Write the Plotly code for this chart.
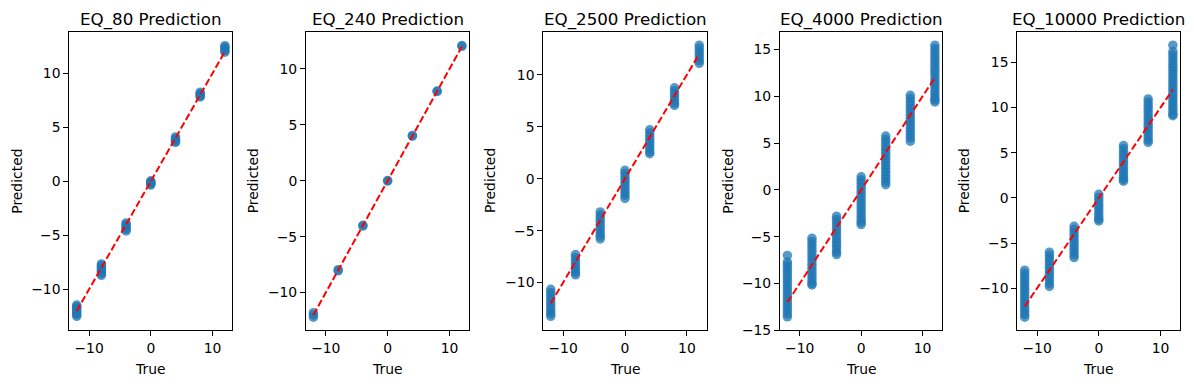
import plotly.graph_objects as go

true_levels = [-12, -8, -4, 0, 4, 8, 12]
titles = ["EQ_80 Prediction", "EQ_240 Prediction", "EQ_2500 Prediction",
          "EQ_4000 Prediction", "EQ_10000 Prediction"]

# predicted values for each true level
eq80_pred = [
    [-11.45, -11.6, -11.75, -11.9, -12.05, -12.2, -12.35, -12.5],
    [-7.65, -7.8, -7.95, -8.1, -8.25, -8.4, -8.55, -8.7],
    [-3.85, -4.0, -4.15, -4.3, -4.45, -4.6],
    [0.05, -0.05, -0.15, -0.25, -0.35],
    [4.1, 3.95, 3.8, 3.7, 3.6],
    [8.25, 8.1, 8.0, 7.9, 7.8],
    [12.55, 12.4, 12.25, 12.1, 11.95],
]
eq240_pred = [
    [-11.8, -12.0, -12.2],
    [-7.95, -8.05],
    [-3.98, -4.05],
    [0.02, -0.03],
    [4.05, 3.98],
    [8.02, 7.98],
    [12.08, 12.02],
]
eq2500_pred = [
    [-10.65, -10.95, -11.25, -11.55, -11.85, -12.15, -12.45, -12.75, -13.0, -13.25],
    [-7.3, -7.6, -7.9, -8.2, -8.5, -8.8, -9.05, -9.25],
    [-3.2, -3.5, -3.8, -4.1, -4.4, -4.7, -5.0, -5.3, -5.55, -5.8],
    [0.8, 0.5, 0.2, -0.1, -0.4, -0.7, -1.0, -1.3, -1.6, -1.9],
    [4.7, 4.4, 4.1, 3.8, 3.5, 3.2, 2.9, 2.6, 2.4],
    [8.75, 8.45, 8.15, 7.85, 7.55, 7.25, 7.05],
    [12.85, 12.55, 12.25, 11.95, 11.65, 11.35, 11.1],
]
eq4000_pred = [
    [-7.0, -7.7, -8.0, -8.35, -8.7, -9.05, -9.4, -9.75, -10.1, -10.45, -10.8, -11.15,
     -11.5, -11.85, -12.2, -12.55, -12.9, -13.25, -13.55],
    [-5.15, -5.5, -5.85, -6.2, -6.55, -6.9, -7.25, -7.6, -7.95, -8.3, -8.65, -9.0,
     -9.35, -9.7, -10.0, -10.15],
    [-2.8, -3.15, -3.5, -3.85, -4.2, -4.55, -4.9, -5.25, -5.6, -5.95, -6.3, -6.65, -6.9],
    [1.4, 1.05, 0.7, 0.35, 0.0, -0.35, -0.7, -1.05, -1.4, -1.75, -2.1, -2.45, -2.8,
     -3.15, -3.45, -3.7],
    [5.75, 5.4, 5.05, 4.7, 4.35, 4.0, 3.65, 3.3, 2.95, 2.6, 2.25, 1.9, 1.55, 1.2, 0.85, 0.55],
    [10.1, 9.75, 9.4, 9.05, 8.7, 8.35, 8.0, 7.65, 7.3, 6.95, 6.6, 6.25, 5.9, 5.55, 5.2],
    [15.45, 15.1, 14.75, 14.4, 14.05, 13.7, 13.35, 13.0, 12.65, 12.3, 11.95, 11.6,
     11.25, 10.9, 10.55, 10.2, 9.85, 9.6, 9.4],
]
eq10000_pred = [
    [-8.0, -8.35, -8.7, -9.05, -9.4, -9.75, -10.1, -10.45, -10.8, -11.15, -11.5, -11.85,
     -12.2, -12.55, -12.9, -13.2],
    [-6.0, -6.35, -6.7, -7.05, -7.4, -7.75, -8.1, -8.45, -8.8, -9.15, -9.5, -9.8],
    [-3.15, -3.5, -3.85, -4.2, -4.55, -4.9, -5.25, -5.6, -5.95, -6.3, -6.6],
    [0.4, 0.05, -0.3, -0.65, -1.0, -1.35, -1.7, -2.05, -2.35, -2.55],
    [5.8, 5.45, 5.1, 4.75, 4.4, 4.05, 3.7, 3.35, 3.0, 2.65, 2.3, 2.05, 1.85],
    [10.95, 10.6, 10.25, 9.9, 9.55, 9.2, 8.85, 8.5, 8.15, 7.8, 7.45, 7.1, 6.75, 6.4, 6.15],
    [16.9, 16.2, 15.85, 15.5, 15.15, 14.8, 14.45, 14.1, 13.75, 13.4, 13.05, 12.7, 12.35,
     12.0, 11.65, 11.3, 10.95, 10.6, 10.25, 9.9, 9.55, 9.25, 9.1],
]
all_preds = [eq80_pred, eq240_pred, eq2500_pred, eq4000_pred, eq10000_pred]

y_ranges = [[-13.8, 13.85], [-13.38, 13.33], [-14.6, 14.15], [-15.0, 16.9], [-14.66, 18.4]]
y_ticks = [[-10, -5, 0, 5, 10], [-10, -5, 0, 5, 10], [-10, -5, 0, 5, 10],
           [-15, -10, -5, 0, 5, 10, 15], [-10, -5, 0, 5, 10, 15]]
x_ticks = [-10, 0, 10]

W, H = 1194, 390
px_left = [69.3, 306.0, 543.3, 780.0, 1017.3]
px_right = [232.3, 469.3, 706.7, 942.3, 1180.3]
px_top, px_bottom = 32.3, 337.3
ylabel_x = [16.7, 253.3, 490.0, 727.7, 964.3]
title_y_px = 20.0
xlabel_y_px = 377.0

FONT = "DejaVu Sans"
BLUE = "#1f77b4"

fig = go.Figure()
annotations = []
for i, preds in enumerate(all_preds):
    xs, ys = [], []
    for t, vals in zip(true_levels, preds):
        for v in vals:
            xs.append(t)
            ys.append(v)
    suffix = "" if i == 0 else str(i + 1)
    fig.add_trace(go.Scatter(
        x=xs, y=ys, mode="markers", xaxis="x" + suffix, yaxis="y" + suffix,
        marker=dict(color=BLUE, size=9.5, opacity=0.75, line=dict(width=0)),
        showlegend=False, hoverinfo="skip"))
    fig.add_trace(go.Scatter(
        x=[min(true_levels), max(true_levels)], y=[min(true_levels), max(true_levels)],
        mode="lines", xaxis="x" + suffix, yaxis="y" + suffix,
        line=dict(color="red", width=2, dash="7px,3px"),
        showlegend=False, hoverinfo="skip"))

    dom_x = [px_left[i] / W, px_right[i] / W]
    dom_y = [1 - px_bottom / H, 1 - px_top / H]
    axis_common = dict(showline=True, mirror=True, linecolor="black", linewidth=1,
                       showgrid=False, zeroline=False, ticks="outside", ticklen=5,
                       tickwidth=1, tickcolor="black",
                       tickfont=dict(family=FONT, size=13.9, color="black"))
    fig.update_layout(**{
        "xaxis" + suffix: dict(domain=dom_x, range=[-13.2, 13.2], tickvals=x_ticks,
                               anchor="y" + suffix, **axis_common),
        "yaxis" + suffix: dict(domain=dom_y, range=y_ranges[i], tickvals=y_ticks[i],
                               anchor="x" + suffix, **axis_common),
    })
    cx = (px_left[i] + px_right[i]) / 2 / W
    annotations.append(dict(text=titles[i], x=cx, y=1 - title_y_px / H, xref="paper", yref="paper",
                            xanchor="center", yanchor="middle", showarrow=False,
                            font=dict(family=FONT, size=16.7, color="black")))
    annotations.append(dict(text="True", x=cx, y=1 - xlabel_y_px / H, xref="paper", yref="paper",
                            xanchor="center", yanchor="middle", showarrow=False,
                            font=dict(family=FONT, size=13.9, color="black")))
    annotations.append(dict(text="Predicted", x=ylabel_x[i] / W, y=1 - (px_top + px_bottom) / 2 / H,
                            xref="paper", yref="paper", xanchor="center", yanchor="middle",
                            textangle=-90, showarrow=False,
                            font=dict(family=FONT, size=13.9, color="black")))

fig.update_layout(width=W, height=H, margin=dict(l=0, r=0, t=0, b=0),
                  paper_bgcolor="white", plot_bgcolor="white",
                  annotations=annotations, font=dict(family=FONT))
fig.write_html("out.html", config={"displayModeBar": False},
               post_script="document.body.style.margin='0px';document.body.style.overflow='hidden';")
